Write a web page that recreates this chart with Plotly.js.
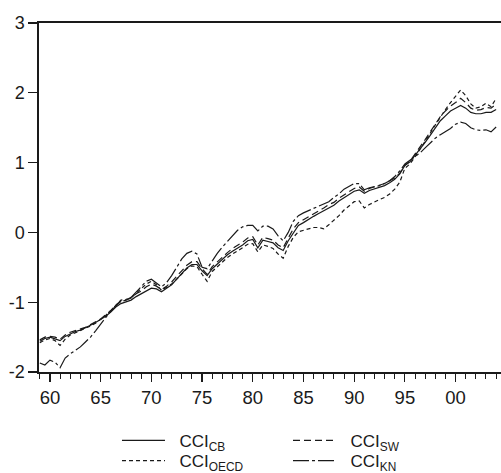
<!DOCTYPE html>
<html>
<head>
<meta charset="utf-8">
<script src="https://cdn.plot.ly/plotly-3.0.1.min.js"></script>
<style>
  html, body { margin: 0; padding: 0; background: #fff; }
  #chart { width: 501px; height: 473px; }
</style>
</head>
<body>
<div id="chart"></div>
<script>
// Half-year observation dates
const years = [
  1959.0, 1959.5, 1960.0, 1960.5, 1961.0, 1961.5, 1962.0, 1962.5, 1963.0, 1963.5,
  1964.0, 1964.5, 1965.0, 1965.5, 1966.0, 1966.5, 1967.0, 1967.5, 1968.0, 1968.5,
  1969.0, 1969.5, 1970.0, 1970.5, 1971.0, 1971.5, 1972.0, 1972.5, 1973.0, 1973.5,
  1974.0, 1974.5, 1975.0, 1975.5, 1976.0, 1976.5, 1977.0, 1977.5, 1978.0, 1978.5,
  1979.0, 1979.5, 1980.0, 1980.5, 1981.0, 1981.5, 1982.0, 1982.5, 1983.0, 1983.5,
  1984.0, 1984.5, 1985.0, 1985.5, 1986.0, 1986.5, 1987.0, 1987.5, 1988.0, 1988.5,
  1989.0, 1989.5, 1990.0, 1990.5, 1991.0, 1991.5, 1992.0, 1992.5, 1993.0, 1993.5,
  1994.0, 1994.5, 1995.0, 1995.5, 1996.0, 1996.5, 1997.0, 1997.5, 1998.0, 1998.5,
  1999.0, 1999.5, 2000.0, 2000.5, 2001.0, 2001.5, 2002.0, 2002.5, 2003.0, 2003.5,
  2004.0
];

const cciCB = [
  -1.56, -1.52, -1.50, -1.52, -1.55, -1.49, -1.45, -1.42, -1.40, -1.37,
  -1.33, -1.29, -1.25, -1.20, -1.14, -1.07, -1.02, -1.00, -0.97, -0.92,
  -0.88, -0.83, -0.80, -0.81, -0.85, -0.80, -0.75, -0.67, -0.59, -0.51,
  -0.46, -0.46, -0.55, -0.62, -0.52, -0.45, -0.38, -0.32, -0.27, -0.23,
  -0.18, -0.12, -0.10, -0.22, -0.11, -0.13, -0.15, -0.22, -0.26, -0.12,
   0.00,  0.10,  0.14,  0.19,  0.23,  0.27,  0.31,  0.36,  0.39,  0.45,
   0.50,  0.55,  0.59,  0.61,  0.56,  0.60,  0.62,  0.64,  0.67,  0.71,
   0.76,  0.84,  0.96,  1.01,  1.10,  1.20,  1.29,  1.39,  1.49,  1.60,
   1.67,  1.74,  1.78,  1.82,  1.78,  1.72,  1.70,  1.70,  1.72,  1.72,
   1.76
];

const cciSW = [
  -1.54, -1.50, -1.49, -1.50, -1.53, -1.47, -1.43, -1.41, -1.39, -1.36,
  -1.32, -1.28, -1.24, -1.18, -1.12, -1.04, -0.98, -0.97, -0.94, -0.88,
  -0.84, -0.78, -0.74, -0.77, -0.82, -0.77, -0.71, -0.63, -0.55, -0.47,
  -0.42, -0.42, -0.52, -0.60, -0.49, -0.42, -0.35, -0.29, -0.23, -0.19,
  -0.14, -0.08, -0.06, -0.18, -0.07, -0.09, -0.11, -0.18, -0.22, -0.08,
   0.05,  0.14,  0.18,  0.23,  0.27,  0.31,  0.35,  0.40,  0.43,  0.49,
   0.54,  0.59,  0.63,  0.65,  0.59,  0.63,  0.65,  0.67,  0.70,  0.74,
   0.78,  0.85,  0.96,  1.02,  1.12,  1.23,  1.33,  1.44,  1.55,  1.66,
   1.74,  1.81,  1.86,  1.92,  1.86,  1.78,  1.75,  1.76,  1.79,  1.78,
   1.84
];

const cciOECD = [
  -1.58, -1.54, -1.52, -1.55, -1.62, -1.53, -1.47, -1.44, -1.41, -1.38,
  -1.34, -1.30, -1.25, -1.19, -1.12, -1.04, -0.97, -0.96, -0.94, -0.87,
  -0.81, -0.74, -0.70, -0.75, -0.83, -0.79, -0.74, -0.67, -0.59, -0.52,
  -0.48, -0.49, -0.60, -0.70, -0.56, -0.49, -0.42, -0.36, -0.31, -0.27,
  -0.22, -0.17, -0.16, -0.28, -0.18, -0.20, -0.23, -0.31, -0.37, -0.20,
  -0.07,  0.01,  0.03,  0.05,  0.07,  0.07,  0.05,  0.11,  0.17,  0.24,
   0.32,  0.38,  0.44,  0.45,  0.35,  0.40,  0.44,  0.47,  0.50,  0.55,
   0.62,  0.72,  0.92,  0.98,  1.08,  1.19,  1.30,  1.42,  1.54,  1.66,
   1.76,  1.86,  1.95,  2.04,  1.96,  1.84,  1.78,  1.80,  1.85,  1.80,
   1.92
];

const cciKN = [
  -1.87, -1.90, -1.83, -1.86, -1.94, -1.80, -1.74, -1.69, -1.64, -1.57,
  -1.50, -1.41, -1.31, -1.22, -1.13, -1.05, -0.99, -0.97, -0.93, -0.85,
  -0.77, -0.70, -0.67, -0.72, -0.78, -0.72, -0.62, -0.50, -0.38, -0.30,
  -0.27, -0.31, -0.50, -0.52, -0.40, -0.30, -0.21, -0.13, -0.06,  0.03,
   0.08,  0.10,  0.10,  0.02,  0.09,  0.09,  0.05, -0.05, -0.12,  0.00,
   0.16,  0.24,  0.28,  0.31,  0.34,  0.37,  0.40,  0.44,  0.50,  0.55,
   0.62,  0.66,  0.70,  0.70,  0.61,  0.64,  0.65,  0.67,  0.70,  0.74,
   0.80,  0.88,  0.98,  1.03,  1.08,  1.14,  1.21,  1.28,  1.35,  1.40,
   1.44,  1.49,  1.55,  1.58,  1.56,  1.50,  1.47,  1.46,  1.47,  1.44,
   1.51
];

// Major x ticks: two-digit year labels
const tickYears = [1960, 1965, 1970, 1975, 1980, 1985, 1990, 1995, 2000];
const tickLabels = ['60', '65', '70', '75', '80', '85', '90', '95', '00'];

// y ticks, labelled with a plain hyphen for negatives
const yTickVals = [-2, -1, 0, 1, 2, 3];
const yTickLabels = ['-2', '-1', '0', '1', '2', '3'];

const ink = '#1a1a1a';
const fontFamily = '"Liberation Sans", Arial, Helvetica, sans-serif';
const gap = '\u00a0\u00a0';

function series(name, values, dash, legendId) {
  return {
    type: 'scatter',
    mode: 'lines',
    name: gap + name,
    legend: legendId,
    x: years,
    y: values,
    line: { color: ink, width: 1.2, dash: dash },
    hoverinfo: 'skip'
  };
}

const traces = [
  series('CCI<sub>CB</sub>', cciCB, 'solid', 'legend'),
  series('CCI<sub>SW</sub>', cciSW, '7px,4px', 'legend2'),
  series('CCI<sub>OECD</sub>', cciOECD, '4px,3px', 'legend3'),
  series('CCI<sub>KN</sub>', cciKN, '16px,3px,3px,3px', 'legend4')
];

// One legend box per key entry, laid out in a 2 x 2 grid below the plot
function legendBox(x, y) {
  return {
    xref: 'container',
    yref: 'container',
    x: x,
    y: y,
    xanchor: 'left',
    yanchor: 'middle',
    itemwidth: 43,
    bgcolor: 'rgba(0,0,0,0)',
    borderwidth: 0,
    font: { family: fontFamily, size: 17, color: ink }
  };
}

const colLeft = 0.2335;
const colRight = 0.5748;
const rowTop = 0.068;
const rowBottom = 0.025;

const layout = {
  width: 501,
  height: 473,
  margin: { l: 39, r: 0, t: 23, b: 101, pad: 0, autoexpand: false },
  paper_bgcolor: '#ffffff',
  plot_bgcolor: '#ffffff',
  font: { family: fontFamily, size: 18, color: ink },
  showlegend: true,
  xaxis: {
    range: [1958.92, 2004.48],
    tickmode: 'array',
    tickvals: tickYears,
    ticktext: tickLabels,
    ticks: 'outside',
    ticklen: 8,
    tickwidth: 1.2,
    tickcolor: ink,
    tickfont: { family: fontFamily, size: 18.5, color: ink },
    showline: true,
    linewidth: 1.6,
    linecolor: ink,
    mirror: true,
    showgrid: false,
    zeroline: false,
    automargin: false,
    minor: {
      tickmode: 'linear',
      tick0: 1959,
      dtick: 1,
      ticks: 'outside',
      ticklen: 5,
      tickwidth: 1,
      tickcolor: ink,
      showgrid: false
    }
  },
  yaxis: {
    range: [-2, 3],
    tickmode: 'array',
    tickvals: yTickVals,
    ticktext: yTickLabels,
    ticks: 'outside',
    ticklen: 9,
    tickwidth: 1.2,
    tickcolor: ink,
    showline: true,
    linewidth: 1.6,
    linecolor: ink,
    showgrid: false,
    zeroline: false,
    automargin: false,
    ticklabelstandoff: 0
  },
  legend: legendBox(colLeft, rowTop),
  legend2: legendBox(colRight, rowTop),
  legend3: legendBox(colLeft, rowBottom),
  legend4: legendBox(colRight, rowBottom)
};

Plotly.newPlot('chart', traces, layout, { displayModeBar: false, staticPlot: true });
</script>
</body>
</html>
